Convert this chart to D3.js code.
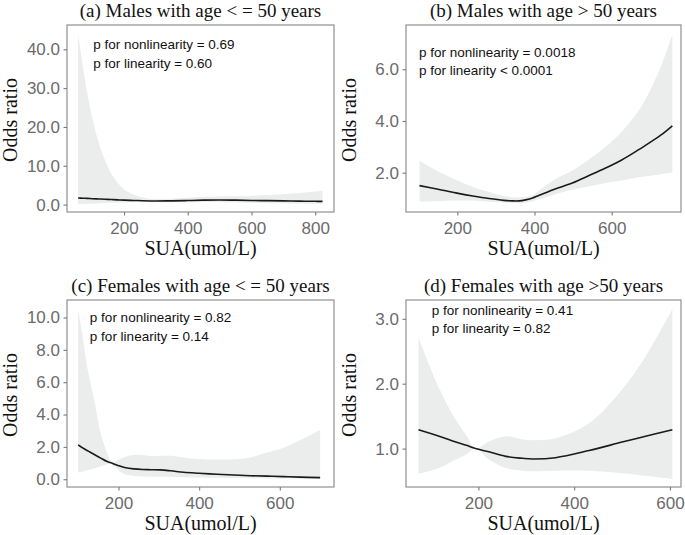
<!DOCTYPE html>
<html><head><meta charset="utf-8">
<script src="https://cdn.jsdelivr.net/npm/d3@7"></script>
<style>body{margin:0;background:#fff}svg{display:block}</style>
</head><body>
<svg id="c" width="685" height="535"></svg>
<script>
// ---------- Data ----------
// Panel (a) Males with age <= 50 years
const sua_a = [56, 70, 85, 100, 120, 140, 160, 180, 200, 230, 260, 300, 350, 400, 450, 500, 550, 600, 650, 700, 750, 800, 823];
const or_a  = [1.7, 1.65, 1.6, 1.52, 1.45, 1.38, 1.3, 1.22, 1.15, 1.07, 1.0, 0.95, 0.97, 1.05, 1.15, 1.2, 1.15, 1.08, 1.02, 0.96, 0.9, 0.85, 0.83];
const lo_a  = [0.1, 0.15, 0.2, 0.25, 0.3, 0.4, 0.45, 0.5, 0.55, 0.6, 0.65, 0.62, 0.6, 0.62, 0.66, 0.68, 0.6, 0.5, 0.42, 0.35, 0.28, 0.22, 0.2];
const hi_a  = [44, 36, 28.5, 22.5, 16, 11.5, 8, 5.6, 3.9, 2.6, 1.8, 1.45, 1.5, 1.75, 2.0, 2.1, 2.15, 2.25, 2.45, 2.7, 3.0, 3.4, 3.6];
const xTicks_a = [200, 400, 600, 800];
const yTicks_a = [0, 10, 20, 30, 40];

// Panel (b) Males with age > 50 years
const sua_b = [102, 150, 196, 240, 282, 320, 342, 360, 377, 395, 411, 450, 498, 540, 584, 627, 670, 700, 730, 757];
const or_b  = [1.50, 1.36, 1.22, 1.10, 1.0, 0.93, 0.91, 0.91, 0.95, 1.02, 1.12, 1.35, 1.60, 1.88, 2.18, 2.50, 2.89, 3.18, 3.48, 3.81];
const lo_b  = [0.89, 0.90, 0.92, 0.92, 0.88, 0.85, 0.84, 0.83, 0.85, 0.9, 0.96, 1.15, 1.34, 1.47, 1.6, 1.7, 1.82, 1.88, 1.95, 2.01];
const hi_b  = [2.46, 2.05, 1.73, 1.45, 1.25, 1.1, 1.05, 1.04, 1.06, 1.12, 1.3, 1.72, 2.08, 2.5, 3.0, 3.6, 4.4, 5.2, 6.2, 7.33];
const xTicks_b = [200, 400, 600];
const yTicks_b = [2, 4, 6];

// Panel (c) Females with age <= 50 years
const sua_c = [100, 110, 122, 130, 140, 155, 172, 183, 190, 200, 215, 238, 260, 280, 304, 330, 362, 400, 444, 486, 527, 568, 609, 651, 700];
const or_c  = [2.12, 1.95, 1.78, 1.67, 1.53, 1.32, 1.09, 1.0, 0.93, 0.84, 0.73, 0.64, 0.6, 0.59, 0.58, 0.52, 0.43, 0.37, 0.31, 0.26, 0.22, 0.19, 0.16, 0.13, 0.1];
const lo_c  = [0.41, 0.47, 0.55, 0.6, 0.67, 0.78, 0.92, 1.0, 0.8, 0.55, 0.32, 0.2, 0.17, 0.16, 0.16, 0.15, 0.13, 0.11, 0.09, 0.07, 0.06, 0.05, 0.04, 0.03, 0.02];
const hi_c  = [10.5, 9.0, 7.0, 6.0, 4.9, 2.9, 1.6, 1.0, 1.08, 1.22, 1.38, 1.5, 1.5, 1.43, 1.45, 1.45, 1.35, 1.25, 1.22, 1.24, 1.35, 1.65, 1.95, 2.43, 3.05];
const xTicks_c = [200, 400, 600];
const yTicks_c = [0, 2, 4, 6, 8, 10];

// Panel (d) Females with age > 50 years
const sua_d = [75, 118, 153, 175, 194, 222, 257, 292, 313, 361, 431, 500, 549, 605];
const or_d  = [1.29, 1.19, 1.1, 1.05, 1.0, 0.95, 0.88, 0.85, 0.84, 0.86, 0.97, 1.1, 1.19, 1.29];
const lo_d  = [0.61, 0.70, 0.83, 0.91, 1.0, 0.83, 0.70, 0.66, 0.65, 0.66, 0.66, 0.62, 0.58, 0.53];
const hi_d  = [2.71, 1.93, 1.44, 1.2, 1.0, 1.11, 1.19, 1.14, 1.13, 1.16, 1.39, 1.91, 2.42, 3.15];
const xTicks_d = [200, 400, 600];
const yTicks_d = [1, 2, 3];

const titles = ["(a) Males with age < = 50 years", "(b) Males with age > 50 years",
                "(c) Females with age < = 50 years", "(d) Females with age >50 years"];
const pNonlin = ["0.69", "0.0018", "0.82", "0.41"];
const pLin = ["= 0.60", "< 0.0001", "= 0.14", "= 0.82"];

// ---------- Layout ----------
const panels = [
  {sua: sua_a, or: or_a, lo: lo_a, hi: hi_a, xt: xTicks_a, yt: yTicks_a,
   xd: [21, 859], yd: [-1.9, 46.25], L: 67, R: 334, T: 25, B: 212, ax: 103, ay: 40},
  {sua: sua_b, or: or_b, lo: lo_b, hi: hi_b, xt: xTicks_b, yt: yTicks_b,
   xd: [67, 779.5], yd: [0.48, 7.71], L: 406, R: 681, T: 25, B: 212, ax: 100.5, ay: 6.48},
  {sua: sua_c, or: or_c, lo: lo_c, hi: hi_c, xt: xTicks_c, yt: yTicks_c,
   xd: [72.3, 734.4], yd: [-0.48, 11.08], L: 67, R: 334, T: 300, B: 487, ax: 129, ay: 9.69},
  {sua: sua_d, or: or_d, lo: lo_d, hi: hi_d, xt: xTicks_d, yt: yTicks_d,
   xd: [48.9, 623], yd: [0.408, 3.29], L: 406, R: 681, T: 300, B: 487, ax: 102.5, ay: 3.06}
];

const svg = d3.select("#c");
const SANS = "'Liberation Sans', Arial, sans-serif";
const SERIF = "'Liberation Serif', 'Times New Roman', serif";
const curve = d3.curveCatmullRom.alpha(0.5);

panels.forEach((p, i) => {
  const x = d3.scaleLinear().domain(p.xd).range([p.L, p.R]);
  const y = d3.scaleLinear().domain(p.yd).range([p.B, p.T]);
  const rows = p.sua.map((s, k) => ({s, or: p.or[k], lo: p.lo[k], hi: p.hi[k]}));
  const g = svg.append("g");

  g.append("path").datum(rows)
    .attr("fill", "#ebecec")
    .attr("d", d3.area().x(d => x(d.s)).y0(d => y(d.lo)).y1(d => y(d.hi)).curve(curve));

  g.append("path").datum(rows)
    .attr("fill", "none").attr("stroke", "#1a1a1a").attr("stroke-width", 1.6)
    .attr("d", d3.line().x(d => x(d.s)).y(d => y(d.or)).curve(curve));

  g.append("rect").attr("x", p.L).attr("y", p.T).attr("width", p.R - p.L).attr("height", p.B - p.T)
    .attr("fill", "none").attr("stroke", "#8f8f8f").attr("stroke-width", 1.2);

  const xa = g.append("g").attr("transform", `translate(0,${p.B})`)
    .call(d3.axisBottom(x).tickValues(p.xt).tickSize(3.5).tickPadding(6.7).tickFormat(d3.format("d")));
  const ya = g.append("g").attr("transform", `translate(${p.L},0)`)
    .call(d3.axisLeft(y).tickValues(p.yt).tickSize(3.5).tickPadding(3.5).tickFormat(d3.format(".1f")));
  [xa, ya].forEach(a => {
    a.select(".domain").remove();
    a.selectAll("line").attr("stroke", "#7a7a7a").attr("stroke-width", 1.1);
    a.selectAll("text").attr("fill", "#6b6b6b").style("font-family", SANS).style("font-size", "17px");
  });

  const cx = (p.L + p.R) / 2, cy = (p.T + p.B) / 2;
  g.append("text").attr("x", cx).attr("y", p.T - 8.5).attr("text-anchor", "middle")
    .style("font-family", SERIF).style("font-size", "19px").attr("fill", "#111").text(titles[i]);
  g.append("text").attr("x", cx).attr("y", p.B + 42.5).attr("text-anchor", "middle")
    .style("font-family", SERIF).style("font-size", "20px").attr("fill", "#111").text("SUA(umol/L)");
  g.append("text").attr("transform", `translate(${p.L - 50.5},${cy + 1.5}) rotate(-90)`)
    .attr("text-anchor", "middle")
    .style("font-family", SERIF).style("font-size", "20px").attr("fill", "#111").text("Odds ratio");

  const ann = g.append("text").style("font-family", SANS).style("font-size", "13.5px").attr("fill", "#111");
  ann.append("tspan").attr("x", x(p.ax)).attr("y", y(p.ay)).text("p for nonlinearity = " + pNonlin[i]);
  ann.append("tspan").attr("x", x(p.ax)).attr("y", y(p.ay) + 18.3).text("p for linearity " + pLin[i]);
});
</script>
</body></html>
